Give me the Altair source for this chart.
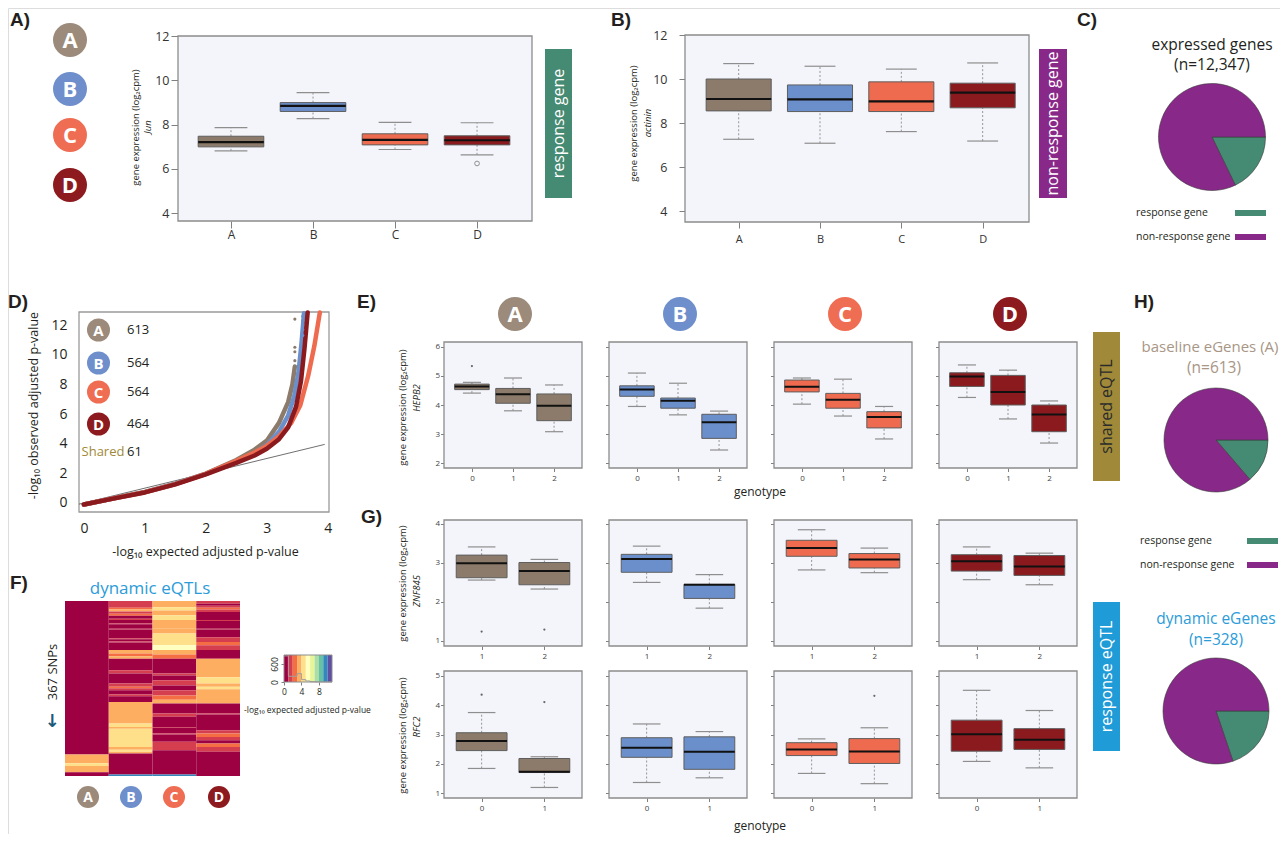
import math
import pandas as pd
import altair as alt

# ======================= DATA =======================
CONDITIONS = ["A", "B", "C", "D"]

# A) Jun (response gene) - box summaries per condition
jun_lower = [6.81, 8.27, 6.87, 6.63]
jun_q1 = [6.99, 8.59, 7.08, 7.08]
jun_median = [7.20, 8.84, 7.31, 7.29]
jun_q3 = [7.47, 8.99, 7.58, 7.49]
jun_upper = [7.86, 9.44, 8.10, 8.08]
jun_outliers = [("D", 6.24)]

# B) actinin (non-response gene)
actinin_lower = [7.26, 7.08, 7.61, 7.18]
actinin_q1 = [8.55, 8.52, 8.52, 8.69]
actinin_median = [9.09, 9.07, 8.98, 9.38]
actinin_q3 = [10.00, 9.73, 9.87, 9.81]
actinin_upper = [10.70, 10.58, 10.45, 10.73]

# C) / H) pies
pie_categories = ["response gene", "non-response gene"]
expressed_genes = [2200, 10147]   # n = 12,347
baseline_egenes = [84, 529]       # n = 613
dynamic_egenes = [65, 263]        # n = 328

# D) QQ plot
eqtl_counts = [613, 564, 564, 464]
shared_count = 61
qq_expected = {
    "A": [0, 0.5, 1.0, 1.5, 2.0, 2.5, 2.8, 3.0, 3.2, 3.35, 3.42, 3.46],
    "B": [0, 0.5, 1.0, 1.5, 2.0, 2.5, 2.8, 3.0, 3.2, 3.35, 3.45, 3.52, 3.57, 3.61],
    "C": [0, 0.5, 1.0, 1.5, 2.0, 2.5, 2.8, 3.0, 3.2, 3.4, 3.55, 3.68, 3.78, 3.87],
    "D": [0, 0.5, 1.0, 1.5, 2.0, 2.5, 2.8, 3.0, 3.2, 3.35, 3.48, 3.56, 3.62, 3.67],
}
qq_observed = {
    "A": [-0.1, 0.33, 0.75, 1.30, 1.98, 2.90, 3.60, 4.20, 5.40, 6.80, 8.00, 9.20],
    "B": [-0.1, 0.32, 0.73, 1.28, 1.96, 2.75, 3.35, 3.90, 4.80, 5.90, 7.20, 8.80, 10.8, 12.8],
    "C": [-0.1, 0.32, 0.72, 1.27, 1.96, 2.85, 3.40, 3.85, 4.50, 5.40, 6.60, 8.60, 10.6, 12.85],
    "D": [-0.1, 0.31, 0.71, 1.25, 1.93, 2.70, 3.20, 3.65, 4.30, 5.10, 6.50, 8.20, 10.5, 12.85],
}
qq_top_points = [("A", 3.46, 9.6), ("A", 3.46, 10.2), ("A", 3.46, 10.5), ("A", 3.46, 12.4),
                 ("B", 3.59, 11.3), ("B", 3.59, 11.7), ("B", 3.59, 12.0), ("B", 3.59, 12.3), ("B", 3.59, 12.6)]

# E) HEPB2 (shared eQTL) by genotype 0/1/2
hepb2_genotypes = [0, 1, 2]
hepb2_lower = {"A": [4.41, 3.80, 3.08], "B": [3.95, 3.66, 2.45], "C": [4.03, 3.62, 2.83], "D": [4.26, 3.52, 2.69]}
hepb2_q1 = {"A": [4.53, 4.06, 3.46], "B": [4.30, 3.89, 2.85], "C": [4.45, 3.89, 3.21], "D": [4.64, 4.00, 3.08]}
hepb2_median = {"A": [4.64, 4.37, 3.97], "B": [4.53, 4.15, 3.41], "C": [4.63, 4.18, 3.59], "D": [4.98, 4.45, 3.67]}
hepb2_q3 = {"A": [4.72, 4.57, 4.38], "B": [4.66, 4.24, 3.68], "C": [4.86, 4.40, 3.77], "D": [5.11, 5.02, 4.00]}
hepb2_upper = {"A": [4.78, 4.93, 4.69], "B": [5.10, 4.75, 3.79], "C": [4.93, 4.89, 3.95], "D": [5.38, 5.20, 4.14]}
hepb2_outliers = [("A", 0, 5.34)]

# G) ZNF845 (response eQTL) by genotype 1/2
znf845_genotypes = [1, 2]
znf845_lower = {"A": [2.56, 2.33], "B": [2.50, 1.84], "C": [2.82, 2.75], "D": [2.57, 2.44]}
znf845_q1 = {"A": [2.62, 2.44], "B": [2.76, 2.09], "C": [3.17, 2.87], "D": [2.79, 2.68]}
znf845_median = {"A": [2.99, 2.79], "B": [3.10, 2.44], "C": [3.38, 3.09], "D": [3.04, 2.91]}
znf845_q3 = {"A": [3.20, 3.01], "B": [3.22, 2.45], "C": [3.58, 3.24], "D": [3.21, 3.19]}
znf845_upper = {"A": [3.41, 3.09], "B": [3.43, 2.70], "C": [3.85, 3.38], "D": [3.41, 3.25]}
znf845_outliers = [("A", 1, 1.24), ("A", 2, 1.29)]

# G) RFC2 (response eQTL) by genotype 0/1
rfc2_genotypes = [0, 1]
rfc2_lower = {"A": [1.84, 1.19], "B": [1.36, 1.52], "C": [1.67, 1.32], "D": [2.08, 1.86]}
rfc2_q1 = {"A": [2.45, 1.70], "B": [2.22, 1.81], "C": [2.28, 2.01], "D": [2.43, 2.49]}
rfc2_median = {"A": [2.78, 1.73], "B": [2.55, 2.41], "C": [2.49, 2.42], "D": [3.01, 2.82]}
rfc2_q3 = {"A": [3.06, 2.18], "B": [2.89, 2.92], "C": [2.72, 2.86], "D": [3.49, 3.20]}
rfc2_upper = {"A": [3.75, 2.24], "B": [3.36, 3.10], "C": [2.85, 3.23], "D": [4.51, 3.82]}
rfc2_outliers = [("A", 0, 4.36), ("A", 1, 4.11), ("C", 1, 4.32)]

# F) dynamic eQTL heatmap: 367 SNP rows, segments (first_row, end_row, -log10 p) per condition
heatmap_A = [(0, 322, 0.5), (322, 340, 3.5), (340, 346, 4.3), (346, 359, 3.5), (359, 367, 0.5)]
heatmap_B = [(0, 14, 1.5), (14, 18, 2.5), (18, 22, 3.5), (22, 27, 1.5), (27, 31, 2.5), (31, 37, 0.5),
             (37, 40, 1.5), (40, 47, 0.5), (47, 49, 1.5), (49, 58, 0.5), (58, 60, 1.5), (60, 78, 0.5),
             (78, 80, 1.5), (80, 85, 0.5), (85, 87, 1.5), (87, 103, 0.5), (103, 110, 3.5), (110, 116, 2.5),
             (116, 121, 3.5), (121, 145, 0.5), (145, 152, 1.5), (152, 173, 0.5), (173, 180, 1.5),
             (180, 183, 2.5), (183, 187, 1.5), (187, 196, 0.5), (196, 200, 1.5), (200, 212, 0.5),
             (212, 257, 3.5), (257, 264, 4.4), (264, 268, 3.5), (268, 285, 4.4), (285, 306, 4.5),
             (306, 312, 3.5), (312, 316, 4.4), (316, 320, 3.5), (320, 364, 0.5), (364, 367, 9.5)]
heatmap_C = [(0, 13, 3.5), (13, 20, 4.3), (20, 30, 3.5), (30, 40, 4.5), (40, 58, 3.5), (58, 68, 3.8),
             (68, 93, 4.5), (93, 103, 5.3), (103, 112, 3.5), (112, 121, 2.5), (121, 152, 0.5),
             (152, 156, 1.5), (156, 166, 0.5), (166, 177, 1.5), (177, 187, 0.5), (187, 198, 1.5),
             (198, 207, 2.5), (207, 215, 3.5), (215, 236, 0.5), (236, 243, 1.5), (243, 264, 0.5),
             (264, 266, 1.5), (266, 278, 0.5), (278, 280, 1.5), (280, 295, 0.5), (295, 313, 1.5),
             (313, 364, 0.5), (364, 367, 9.5)]
heatmap_D = [(0, 6, 1.5), (6, 10, 0.5), (10, 14, 1.5), (14, 18, 2.5), (18, 23, 1.5), (23, 40, 0.5),
             (40, 42, 1.5), (42, 58, 0.5), (58, 60, 1.5), (60, 76, 0.5), (76, 86, 1.5), (86, 93, 2.5),
             (93, 103, 1.5), (103, 121, 0.5), (121, 160, 3.5), (160, 173, 4.4), (173, 180, 3.5),
             (180, 185, 4.3), (185, 215, 3.5), (215, 236, 0.5), (236, 238, 1.5), (238, 271, 0.5),
             (271, 278, 1.5), (278, 285, 2.5), (285, 292, 1.5), (292, 299, 0.5), (299, 306, 2.5),
             (306, 316, 1.5), (316, 367, 0.5)]
heatmap_rows = 367
key_bins = list(range(12))                         # bin edges 0..11
key_hist = [870, 190, 190, 280, 80, 35, 10, 5, 5, 3, 2]

# ======================= STYLE / LAYOUT =======================
FONT = "Open Sans"
LETTER_FONT = "Liberation Sans"
INK = "#231f20"
W, H = 1272, 826
M = 8
BOX_COLORS = ["#8c7b6a", "#6a8fcb", "#ef6b4f", "#8b1a1e"]
BADGE_COLORS = ["#9c8a7b", "#6e8fcc", "#ef6d52", "#8c1a1e"]
GREEN = "#458a72"
PURPLE = "#882889"
OLIVE = "#a08938"
SKY = "#1f9bd7"
SKY_TXT = "#2b9cd8"
PANEL_BG = "#f4f5fa"
SPECTRAL = ["#9e0142", "#d53e4f", "#f46d43", "#fdae61", "#fee08b", "#ffffbf",
            "#e6f598", "#abdda4", "#66c2a5", "#3288bd", "#5e4fa2"]
PANEL_X0 = [444, 609, 774, 939]
PANEL_W = 138


def P(v):
    return v - M


DUMMY = pd.DataFrame({"k": [0]})


def txt(x, y, s, size=12, color=INK, weight="normal", angle=0, align="center",
        baseline="middle", style="normal", font=FONT):
    kw = dict(font=font, fontSize=size, color=color, fontWeight=weight, align=align,
              baseline=baseline, fontStyle=style)
    if angle:
        kw["angle"] = angle
    return alt.Chart(DUMMY).mark_text(**kw).encode(
        x=alt.value(P(x)), y=alt.value(P(y)), text=alt.value(s))


def rect_at(x0, x1, y0, y1, color):
    return alt.Chart(DUMMY).mark_rect(color=color).encode(
        x=alt.value(P(x0)), x2=alt.value(P(x1)), y=alt.value(P(y0)), y2=alt.value(P(y1)))


def dot_at(x, y, r, color):
    return alt.Chart(DUMMY).mark_circle(size=(2 * r) ** 2, color=color, opacity=1).encode(
        x=alt.value(P(x)), y=alt.value(P(y)))


def badge(x, y, r, cond, fsize):
    col = BADGE_COLORS[CONDITIONS.index(cond)]
    return [dot_at(x, y, r, col), txt(x, y + 0.5, cond, size=fsize, color="white", weight="bold")]


def box_table(conds, xs, lower, q1, med, q3, upper):
    return pd.DataFrame(dict(cond=conds, g=xs, lo=lower, q1=q1, med=med, q3=q3, hi=upper))


def axis_common(size, color):
    return dict(domain=False, grid=False, tickColor="#808080", tickWidth=1, labelFont=FONT,
                labelColor=color, labelFontSize=size, labelFlush=False, labelOverlap=False,
                labelBound=False)


def box_panel(tab, frame, xdom, ydom, xticks, yticks, half_box, half_cap, xlabel_expr=None,
              ylabels=True, ylab_size=8, xlab_size=8, tick_len=3, ylab_pad=1, xlab_pad=2,
              median_w=2.0, ytitle=None, ytitle_pos=None, out_tab=None, open_out=False,
              lab_color="#444444"):
    x0, x1, y0, y1 = frame
    xsc = alt.Scale(domain=xdom, range=[P(x0), P(x1)], nice=False, zero=False)
    ysc = alt.Scale(domain=ydom, range=[P(y1), P(y0)], nice=False, zero=False)
    yk = dict(axis_common(ylab_size, lab_color), orient="left", offset=-P(x0), values=yticks,
              tickSize=tick_len, labelPadding=ylab_pad, labels=ylabels)
    if ytitle:
        yk.update(title=ytitle, titleX=ytitle_pos[0] - x0, titleY=P(ytitle_pos[1]), titleAngle=270,
                  titleAlign="center", titleBaseline="middle", titleFont=FONT, titleFontSize=9.5,
                  titleFontWeight="normal", titleColor=INK)
    else:
        yk.update(title=None)
    yax = alt.Axis(**yk)
    xk = dict(axis_common(xlab_size, lab_color), orient="bottom", offset=P(y1) - H, values=xticks,
              tickSize=tick_len, labelPadding=xlab_pad, title=None)
    if xlabel_expr:
        xk["labelExpr"] = xlabel_expr
    else:
        xk["format"] = "d"
    xax = alt.Axis(**xk)

    def X(f):
        return alt.X(f, type="quantitative", scale=xsc, axis=xax)

    def Y(f):
        return alt.Y(f, type="quantitative", scale=ysc, axis=yax)

    t = tab.assign(bl=tab.g - half_box, br=tab.g + half_box, cl=tab.g - half_cap, cr=tab.g + half_cap)
    col = alt.Color("cond:N", scale=alt.Scale(domain=CONDITIONS, range=BOX_COLORS), legend=None)
    frame_layer = alt.Chart(DUMMY).mark_rect(fill=PANEL_BG, stroke="#8c8c8c", strokeWidth=1.3).encode(
        x=alt.XDatum(xdom[0], type="quantitative", scale=xsc, axis=xax), x2=alt.X2Datum(xdom[1]),
        y=alt.YDatum(ydom[0], type="quantitative", scale=ysc, axis=yax), y2=alt.Y2Datum(ydom[1]))
    base = alt.Chart(t)
    whisk = base.mark_rule(color="#8a8a8a", strokeWidth=0.9, strokeDash=[2, 2])
    cap = base.mark_rule(color="#8e8e8e", strokeWidth=1.2)
    layers = [
        frame_layer,
        whisk.encode(x=X("g"), y=Y("q3"), y2="hi"),
        whisk.encode(x=X("g"), y=Y("lo"), y2="q1"),
        cap.encode(x=X("cl"), x2="cr", y=Y("hi")),
        cap.encode(x=X("cl"), x2="cr", y=Y("lo")),
        base.mark_rect(stroke="#5e5e5e", strokeWidth=1).encode(
            x=X("bl"), x2="br", y=Y("q1"), y2="q3", color=col),
        base.mark_rule(color="#111111", strokeWidth=median_w).encode(x=X("bl"), x2="br", y=Y("med")),
    ]
    if out_tab is not None:
        if open_out:
            layers.append(alt.Chart(out_tab).mark_point(shape="circle", filled=False, size=22,
                                                        color="#666666", strokeWidth=1).encode(
                x=X("g"), y=Y("v")))
        else:
            layers.append(alt.Chart(out_tab).mark_circle(size=5, color="#666666", opacity=1).encode(
                x=X("g"), y=Y("v")))
    return alt.layer(*layers)


layers = []

# ----------------------------- Top row -----------------------------
cond_expr = "[''," + ",".join("'%s'" % c for c in CONDITIONS) + "][datum.value]"
positions = [1, 2, 3, 4]
jun_tab = box_table(CONDITIONS, positions, jun_lower, jun_q1, jun_median, jun_q3, jun_upper)
jun_out = pd.DataFrame({"g": [CONDITIONS.index(c) + 1 for c, _ in jun_outliers],
                        "v": [v for _, v in jun_outliers]})
layers.append(box_panel(jun_tab, (178, 532, 36, 221), [0.354, 4.67], [3.64, 12], positions,
                        [4, 6, 8, 10, 12], 0.4, 0.2, xlabel_expr=cond_expr, ylab_size=12.5,
                        xlab_size=12, tick_len=7, ylab_pad=2, xlab_pad=1, median_w=2.2,
                        ytitle="gene expression (log₂cpm)", ytitle_pos=(135, 127),
                        out_tab=jun_out, open_out=True, lab_color="#333333"))
layers.append(txt(148, 127, "Jun", size=9.5, angle=270, style="italic"))

act_tab = box_table(CONDITIONS, positions, actinin_lower, actinin_q1, actinin_median, actinin_q3,
                    actinin_upper)
layers.append(box_panel(act_tab, (685, 1029, 35, 222), [0.34, 4.57], [3.5, 12], positions,
                        [4, 6, 8, 10, 12], 0.4, 0.19, xlabel_expr=cond_expr, ylab_size=12.5,
                        xlab_size=11, tick_len=6, ylab_pad=12, xlab_pad=5, median_w=2.2,
                        ytitle="gene expression (log₂cpm)", ytitle_pos=(633, 123),
                        lab_color="#333333"))
layers.append(txt(648, 123, "actinin", size=9.5, angle=270, style="italic"))

# panel letters (left edge, text baseline)
for lab, x, y in [("A)", 10, 25.5), ("B)", 611, 25.5), ("C)", 1077, 25.5), ("D)", 8, 308),
                  ("E)", 357, 308), ("F)", 10, 589), ("G)", 361, 523), ("H)", 1134, 308)]:
    layers.append(txt(x, y, lab, size=19, weight="bold", align="left", baseline="alphabetic",
                      font=LETTER_FONT))

# left badges
for c, y in zip(CONDITIONS, [40, 89, 135, 185]):
    layers += badge(70, y, 17, c, 22)

# category boxes
layers += [rect_at(545, 572, 49, 198, GREEN), txt(558.5, 123.5, "response gene", size=16, color="white", angle=270),
           rect_at(1039, 1067, 49, 198, PURPLE), txt(1053, 123.5, "non-response gene", size=16, color="white", angle=270),
           rect_at(1093, 1120, 332, 481, OLIVE), txt(1106.5, 406.5, "shared eQTL", size=16, color="#2b2b2b", angle=270),
           rect_at(1093, 1120, 602, 751, SKY), txt(1106.5, 676.5, "response eQTL", size=16, color="white", angle=270)]


# ----------------------------- Pies -----------------------------
def pie(counts, cx, cy, r):
    df = pd.DataFrame({"kind": pie_categories, "n": counts})
    return alt.Chart(df).mark_arc(radius=r, stroke="#3a3a3a", strokeWidth=0.6).encode(
        theta=alt.Theta("n:Q", stack=True, scale=alt.Scale(range=[math.pi / 2, 2.5 * math.pi])),
        color=alt.Color("kind:N", scale=alt.Scale(domain=pie_categories, range=[GREEN, PURPLE]),
                        legend=None),
        order=alt.Order("kind:N", sort="descending"),
        x=alt.value(P(cx)), y=alt.value(P(cy)))


def pie_legend(xt, xs0, xs1, y1, y2):
    return [txt(xt, y1, pie_categories[0], size=10.5, align="left"), rect_at(xs0, xs1, y1 - 3, y1 + 3, GREEN),
            txt(xt, y2, pie_categories[1], size=10.5, align="left"), rect_at(xs0, xs1, y2 - 3, y2 + 3, PURPLE)]


layers += [txt(1212, 45, "expressed genes", size=15.5), txt(1212, 65, "(n=12,347)", size=15.5),
           pie(expressed_genes, 1212, 137, 53.5)]
layers += pie_legend(1136, 1235, 1266, 213, 237)
layers += [txt(1210, 347, "baseline eGenes (A)", size=15, color="#a89686"),
           txt(1214, 368, "(n=613)", size=15.5, color="#a89686"),
           pie(baseline_egenes, 1216, 440, 52)]
layers += pie_legend(1140, 1247, 1278, 541, 565)
layers += [txt(1216, 619, "dynamic eGenes", size=15.5, color=SKY_TXT),
           txt(1216, 640, "(n=328)", size=15.5, color=SKY_TXT),
           pie(dynamic_egenes, 1216, 711, 53)]

# ----------------------------- D) QQ plot -----------------------------
qx = alt.Scale(domain=[-0.08, 4.02], range=[P(79), P(329)], nice=False, zero=False)
qy = alt.Scale(domain=[-0.61, 12.88], range=[P(512), P(312)], nice=False, zero=False)
qxa = alt.Axis(**axis_common(14, INK), orient="bottom", offset=P(512) - H, values=[0, 1, 2, 3, 4],
               ticks=False, labelPadding=9, title="-log₁₀ expected adjusted p-value", titleX=P(205),
               titleY=551 - 512, titleFontSize=12.5, titleFontWeight="normal", titleBaseline="middle",
               titleAlign="center", titleFont=FONT, titleColor=INK)
qya = alt.Axis(**axis_common(14, INK), orient="left", offset=-P(79), values=[0, 2, 4, 6, 8, 10, 12],
               ticks=False, labelPadding=12, title="-log₁₀ observed adjusted p-value", titleX=33 - 79,
               titleY=P(405), titleAngle=270, titleFontSize=12.5, titleFontWeight="normal",
               titleBaseline="middle", titleAlign="center", titleFont=FONT, titleColor=INK)


def QX(f):
    return alt.X(f, type="quantitative", scale=qx, axis=qxa)


def QY(f):
    return alt.Y(f, type="quantitative", scale=qy, axis=qya)


qq_layers = [alt.Chart(DUMMY).mark_rect(fill="white", stroke="#9a9a9a", strokeWidth=1.3).encode(
    x=alt.XDatum(-0.08, type="quantitative", scale=qx, axis=qxa), x2=alt.X2Datum(4.02),
    y=alt.YDatum(-0.61, type="quantitative", scale=qy, axis=qya), y2=alt.Y2Datum(12.88))]
diag = pd.DataFrame({"e": [-0.08, 3.95]})
diag["o"] = diag["e"]
qq_layers.append(alt.Chart(diag).mark_line(color="#4a4a4a", strokeWidth=0.8).encode(x=QX("e"), y=QY("o")))
for i, c in enumerate(CONDITIONS):
    d = pd.DataFrame({"e": qq_expected[c], "o": qq_observed[c]})
    qq_layers.append(alt.Chart(d).mark_line(color=BOX_COLORS[i], strokeWidth=4.5, strokeCap="round",
                                            strokeJoin="round").encode(x=QX("e"), y=QY("o")))
tp = pd.DataFrame(qq_top_points, columns=["cond", "e", "o"])
qq_layers.append(alt.Chart(tp).mark_circle(size=10, opacity=1).encode(
    x=QX("e"), y=QY("o"),
    color=alt.Color("cond:N", scale=alt.Scale(domain=CONDITIONS, range=BOX_COLORS), legend=None)))
layers.append(alt.layer(*qq_layers))

for c, y, n in zip(CONDITIONS, [330, 363, 392, 424], eqtl_counts):
    layers += badge(98.5, y, 11.5, c, 15)
    layers.append(txt(127, y, str(n), size=13, align="left"))
layers += [txt(103, 452, "Shared", size=13, color=OLIVE), txt(127, 452, str(shared_count), size=13, align="left")]

# ----------------------------- E) / G) gene panels -----------------------------
def gene_row(genos, lower, q1, med, q3, upper, outliers, yr, xdom, ydom, yticks, half_box, half_cap, ty):
    out = []
    for i, c in enumerate(CONDITIONS):
        x0 = PANEL_X0[i]
        tab = box_table([c] * len(genos), genos, lower[c], q1[c], med[c], q3[c], upper[c])
        outs = [(g, v) for (cc, g, v) in outliers if cc == c]
        out_tab = pd.DataFrame({"g": [o[0] for o in outs], "v": [o[1] for o in outs]}) if outs else None
        out.append(box_panel(tab, (x0, x0 + PANEL_W, yr[0], yr[1]), xdom, ydom, genos, yticks,
                             half_box, half_cap, ylabels=(i == 0), tick_len=3.5, ylab_pad=1,
                             xlab_pad=3, median_w=2.0,
                             ytitle=("gene expression (log₂cpm)" if i == 0 else None),
                             ytitle_pos=(402, ty), out_tab=out_tab))
    return out


layers += gene_row(hepb2_genotypes, hepb2_lower, hepb2_q1, hepb2_median, hepb2_q3, hepb2_upper,
                   hepb2_outliers, (342, 468), [-0.68, 2.68], [1.83, 6.17], [2, 3, 4, 5, 6], 0.42, 0.22, 407)
layers.append(txt(417, 398, "HEPB2", size=9.5, angle=270, style="italic"))
layers += gene_row(znf845_genotypes, znf845_lower, znf845_q1, znf845_median, znf845_q3, znf845_upper,
                   znf845_outliers, (520, 646), [0.4, 2.6], [0.87, 4.1], [1, 2, 3, 4], 0.405, 0.22, 583)
layers.append(txt(417, 591, "ZNF845", size=9.5, angle=270, style="italic"))
layers += gene_row(rfc2_genotypes, rfc2_lower, rfc2_q1, rfc2_median, rfc2_q3, rfc2_upper,
                   rfc2_outliers, (671, 798), [-0.6, 1.6], [0.83, 5.17], [1, 2, 3, 4, 5], 0.405, 0.22, 735)
layers.append(txt(417, 727, "RFC2", size=9.5, angle=270, style="italic"))
layers += [txt(760, 492, "genotype", size=12), txt(760, 826, "genotype", size=12)]

for c, x in zip(CONDITIONS, [515, 680, 845, 1010]):
    layers += badge(x, 314, 17, c, 22)

# ----------------------------- F) heatmap -----------------------------
hm_rows = []
for ci, segs in enumerate([heatmap_A, heatmap_B, heatmap_C, heatmap_D]):
    for r0, r1, v in segs:
        hm_rows.append({"c0": ci, "c1": ci + 1, "r0": r0, "r1": r1, "v": v})
hm = pd.DataFrame(hm_rows)
hx = alt.Scale(domain=[0, 4], range=[P(65), P(240)], nice=False, zero=False)
hy = alt.Scale(domain=[0, heatmap_rows], range=[P(601), P(776)], nice=False, zero=False)
spec_scale = alt.Scale(type="threshold", domain=list(range(1, 11)), range=SPECTRAL)
layers.append(alt.Chart(hm).mark_rect().encode(
    x=alt.X("c0:Q", scale=hx, axis=None), x2="c1",
    y=alt.Y("r0:Q", scale=hy, axis=None), y2="r1",
    color=alt.Color("v:Q", scale=spec_scale, legend=None)))
layers += [txt(150, 589, "dynamic eQTLs", size=17, color=SKY_TXT),
           txt(53, 672, "367 SNPs", size=13, angle=270),
           txt(52, 722, "↓", size=18, weight="bold", color="#1b5a7a", font="DejaVu Sans")]
for c, x in zip(CONDITIONS, [88, 131, 174, 219]):
    layers += badge(x, 797, 11, c, 14)

# colour key with histogram
kx = alt.Scale(domain=[0, 11], range=[P(284), P(332)], nice=False, zero=False)
ky = alt.Scale(domain=[0, 900], range=[P(682), P(655)], nice=False, zero=False)
kxa = alt.Axis(**axis_common(8.5, INK), orient="bottom", offset=P(682) - H, values=[0, 4, 8], tickSize=3,
               labelPadding=2, title="-log₁₀ expected adjusted p-value", titleX=P(307), titleY=709 - 682,
               titleFontSize=8.5, titleFontWeight="normal", titleBaseline="middle", titleAlign="center",
               titleFont=FONT, titleColor=INK)
kya = alt.Axis(**axis_common(8.5, INK), orient="left", offset=-P(284), values=[0, 600], tickSize=3,
               labelPadding=2, labelAngle=270, labelAlign="center", labelBaseline="bottom", title=None)
key_df = pd.DataFrame({"b0": key_bins[:-1], "b1": key_bins[1:]})
key_df["mid"] = key_df["b0"] + 0.5
hist_df = pd.DataFrame({"b": key_bins, "n": key_hist + key_hist[-1:]})
layers.append(alt.layer(
    alt.Chart(key_df).mark_rect().encode(
        x=alt.X("b0:Q", scale=kx, axis=kxa), x2="b1",
        y=alt.YDatum(0, type="quantitative", scale=ky, axis=kya), y2=alt.Y2Datum(900),
        color=alt.Color("mid:Q", scale=spec_scale, legend=None)),
    alt.Chart(hist_df).mark_line(interpolate="step-after", color="#a0a0a0", strokeWidth=1).encode(
        x=alt.X("b:Q", scale=kx, axis=kxa), y=alt.Y("n:Q", scale=ky, axis=kya)),
    alt.Chart(DUMMY).mark_rect(fill=None, stroke="#8c8c8c", strokeWidth=1).encode(
        x=alt.XDatum(0, type="quantitative", scale=kx, axis=kxa), x2=alt.X2Datum(11),
        y=alt.YDatum(0, type="quantitative", scale=ky, axis=kya), y2=alt.Y2Datum(900)),
))

chart = alt.layer(*layers).resolve_scale(
    x="independent", y="independent", color="independent", theta="independent"
).properties(
    width=W, height=H, padding=0, autosize=alt.AutoSizeParams(type="none"), background="white"
).configure_view(stroke=None).configure(font=FONT)

chart.save("out.html", embed_options={"renderer": "svg", "actions": False})
